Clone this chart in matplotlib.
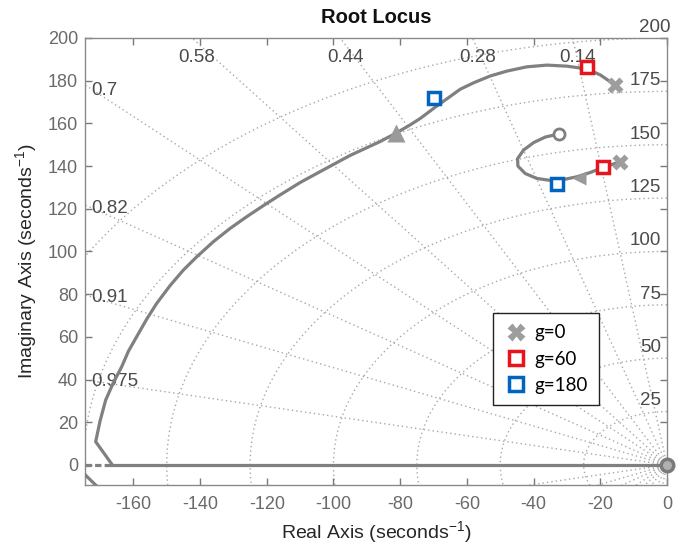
import numpy as np
import matplotlib.pyplot as plt

plt.rcParams['font.family'] = ['Liberation Sans', 'DejaVu Sans']
plt.rcParams['axes.unicode_minus'] = False
plt.rcParams['mathtext.default'] = 'regular'

# root locus branches
branch1_x = [-15.6, -20, -24, -30, -36, -42, -48, -53, -58, -62, -66, -70, -74, -77,
             -81.4, -86, -95, -104, -110, -116, -121, -126, -131, -136, -141, -145,
             -149, -153, -156, -159, -161.5, -163.5, -166, -168.3, -170, -171.3, -166.3]
branch1_y = [178, 182.7, 185.5, 186.8, 187.3, 186.5, 184.5, 182.2, 179, 176, 171.5, 167,
             162.3, 159.3, 155.3, 151.5, 145, 137.4, 132.3, 126.5, 121.5, 116.3, 110.8,
             104.6, 97.5, 91.3, 84, 75.7, 68.3, 60.1, 53.2, 46, 38.5, 30.4, 20.5, 10.9, 0.0]
branch2_x = [-14, -19, -23, -27, -31, -35, -39, -42.5, -44.7, -44.8, -43, -40, -36.5, -32.5]
branch2_y = [142, 139.5, 137, 135, 133.7, 133.3, 134.2, 136.5, 140, 143.5, 147.5, 151,
             153.6, 155]
real_x = [-166.3, 0]
real_y = [0, 0]
dash_x = [-174.5, -166.3]
dash_y = [0, 0]
lower_x = [-176.5, -170]
lower_y = [-1.5, -11.4]

zero_x = [-32.5, 0]
zero_y = [155, 0]

g0_x = [-15.6, -14]
g0_y = [178, 142]
g60_x = [-24, -19.1]
g60_y = [186.3, 139.7]
g180_x = [-70, -33]
g180_y = [171.8, 131.8]

arrow1 = (-81.4, 155.3)
arrow2 = (-26.5, 134.6)

zetas = [0.14, 0.28, 0.44, 0.58, 0.7, 0.82, 0.91, 0.975]
wns = [25, 50, 75, 100, 125, 150, 175, 200]

xlim = (-174.5, 0)
ylim = (-9.4, 200)

fig = plt.figure(figsize=(6.81, 5.49), dpi=100)
ax = fig.add_axes([85 / 681, 64 / 549, 582 / 681, 447 / 549])

grid_kw = dict(color='#a8a8a8', lw=1.0, linestyle=(0, (1, 2.2)), zorder=1)
label_color = '#4a4a4a'

# damping lines
for z in zetas:
    s = np.sqrt(1 - z ** 2)
    r = 400
    ax.plot([0, -r * z], [0, r * s], **grid_kw)
    ax.plot([0, -r * z], [0, -r * s], **grid_kw)
    x_top = -ylim[1] * z / s
    if x_top > xlim[0] + 8:
        ax.text(x_top + 1.5, 191, f'{z:g}', ha='center', va='center',
                fontsize=13.5, color=label_color)
    else:
        ax.text(-172.5, 172 * s / z, f'{z:g}', ha='left', va='center',
                fontsize=13.5, color=label_color)

# natural frequency circles
th = np.linspace(np.pi / 2, 3 * np.pi / 2, 400)
for wn in wns:
    ax.plot(wn * np.cos(th), wn * np.sin(th), **grid_kw)
    if wn < 200:
        ax.text(-1.8, wn + 5, str(wn), ha='right', va='center', fontsize=13.5,
                color=label_color)
    else:
        ax.text(1.0, wn + 5, str(wn), ha='right', va='center', fontsize=13.5,
                color=label_color, clip_on=False)

lc = '#808080'
ax.plot(branch1_x, branch1_y, color=lc, lw=2.3, zorder=3, solid_capstyle='round',
        solid_joinstyle='round')
ax.plot(branch2_x, branch2_y, color=lc, lw=2.3, zorder=3, solid_capstyle='round',
        solid_joinstyle='round')
ax.plot(real_x, real_y, color=lc, lw=2.3, zorder=3)
ax.plot(dash_x, dash_y, color=lc, lw=2.3, linestyle=(0, (2, 1)), zorder=3)
ax.plot(lower_x, lower_y, color=lc, lw=2.3, zorder=3)

ax.plot(*arrow1, marker='^', ms=13, color='#9a9a9a', mec='none', zorder=4)
ax.plot(*arrow2, marker='<', ms=10, color='#9a9a9a', mec='none', zorder=4)

ax.plot(zero_x[:1], zero_y[:1], 'o', ms=8, mfc='white', mec=lc, mew=2, zorder=5)
ax.plot(zero_x[1:], zero_y[1:], 'o', ms=9, mfc='#b0b0b0', mec='#7a7a7a', mew=2.5,
        zorder=5, clip_on=False)

ax.plot(g0_x, g0_y, 'X', ms=11, color='#9d9d9d', mec='none', zorder=6, label='g=0',
        linestyle='none')
ax.plot(g60_x, g60_y, 's', ms=9, mfc='white', mec='#e8141c', mew=2.5, zorder=6,
        label='g=60', linestyle='none')
ax.plot(g180_x, g180_y, 's', ms=9, mfc='white', mec='#0064c0', mew=2.5, zorder=6,
        label='g=180', linestyle='none')

ax.set_xlim(*xlim)
ax.set_ylim(*ylim)
ax.set_xticks(np.arange(-160, 1, 20))
ax.set_yticks(np.arange(0, 201, 20))
ax.tick_params(direction='in', top=True, right=True, length=5, width=1,
               colors='#7a7a7a', labelsize=13, labelcolor='#6a6a6a')
ax.tick_params(axis='x', pad=8)
ax.tick_params(axis='y', pad=5)
for sp in ax.spines.values():
    sp.set_color('#8a8a8a')
    sp.set_linewidth(1)

ax.set_xlabel('Real Axis (seconds$^{-1}$)', fontsize=14, color='#262626', labelpad=4)
ax.set_ylabel('Imaginary Axis (seconds$^{-1}$)', fontsize=14, color='#262626', labelpad=6)
ax.set_title('Root Locus', fontsize=14.5, fontweight='bold', color='#111111', pad=11)

leg = ax.legend(loc='upper left', bbox_to_anchor=(0.701, 0.385), borderaxespad=0,
                fancybox=False, edgecolor='#222222', framealpha=1,
                prop={'family': 'Lato', 'size': 13.5}, handletextpad=0.3,
                handlelength=1.3, borderpad=0.6, labelspacing=0.5, markerscale=1.15)
leg.get_frame().set_linewidth(1)

fig.savefig('out.png', dpi=100)
